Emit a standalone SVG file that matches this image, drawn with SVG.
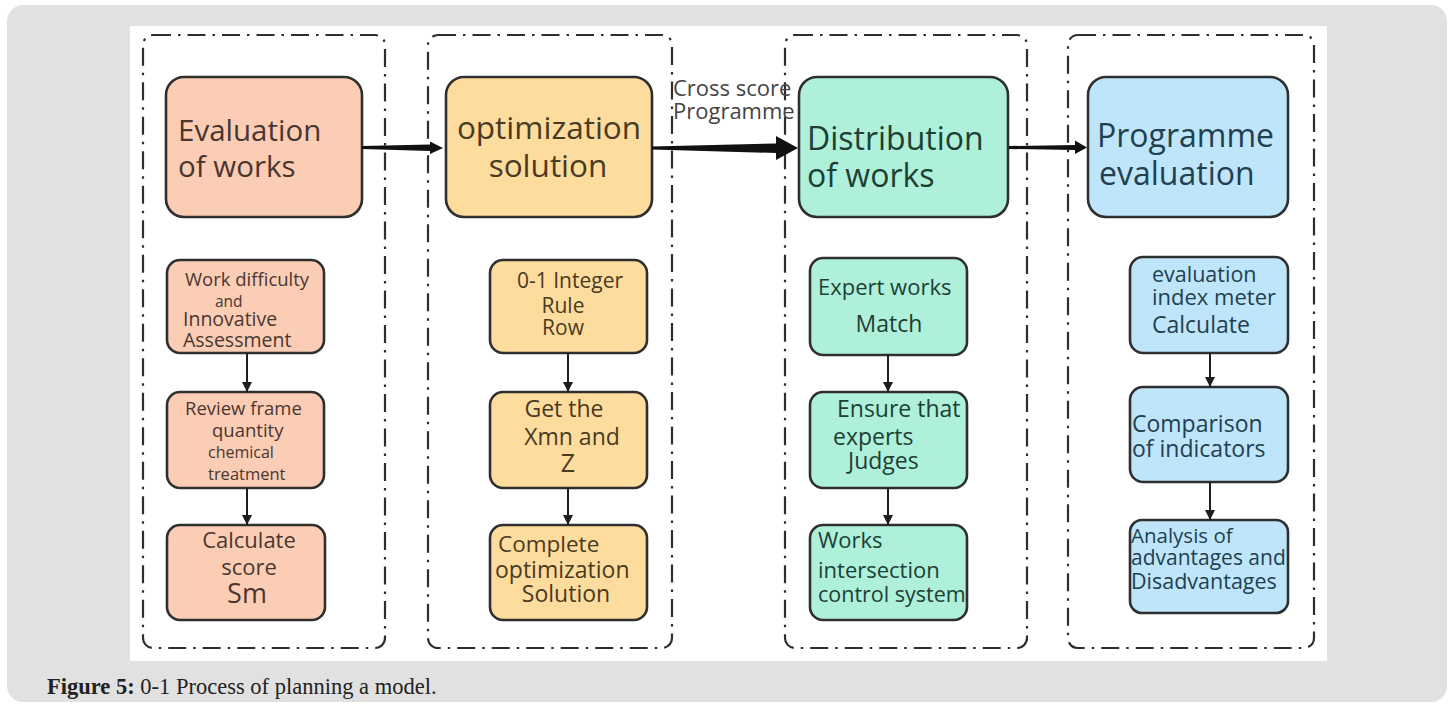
<svg xmlns="http://www.w3.org/2000/svg" width="1450" height="707" viewBox="0 0 1450 707">
<style>
.col{fill:none;stroke:#2e2e2e;stroke-width:2.2;stroke-dasharray:18 7 2.5 7;}
.big{stroke:#2f2f2f;stroke-width:2.6;}
.sm{stroke:#2f2f2f;stroke-width:2.6;}
.c1{fill:#fbcdb4;}
.c2{fill:#fddc9e;}
.c3{fill:#aef0da;}
.c4{fill:#bfe5fa;}
.t{font-family:"Open Sans","Noto Sans","Liberation Sans",sans-serif;}
.t1{fill:#4a3631;}
.t2{fill:#4a3a22;}
.t3{fill:#1d3f34;}
.t4{fill:#22404f;}
.m{text-anchor:middle;}
.v{stroke:#1e1e1e;stroke-width:2;fill:none;}
</style>
<defs>
<marker id="ah" viewBox="0 0 10 10" refX="10" refY="5" markerWidth="10" markerHeight="10" markerUnits="userSpaceOnUse" orient="auto">
<path d="M0,0 L10,5 L0,10 Z" fill="#1e1e1e"/>
</marker>
<clipPath id="clip4c"><rect x="1130" y="520" width="158" height="93" rx="12"/></clipPath>
</defs>
<rect x="0" y="0" width="1450" height="707" fill="#ffffff"/>
<rect x="7" y="5" width="1440" height="697" rx="16" fill="#e1e1e1"/>
<rect x="130" y="26" width="1197" height="635" fill="#ffffff"/>

<g id="columns">
<rect class="col" x="143" y="35" width="242" height="613" rx="10"/>
<rect class="col" x="428" y="35" width="244" height="613" rx="10"/>
<rect class="col" x="785" y="35" width="242" height="613" rx="10"/>
<rect class="col" x="1068" y="35" width="246" height="613" rx="10"/>
</g>

<g id="node-eval">
<rect class="big c1" x="166" y="77" width="196" height="140" rx="18"/>
<text class="t t1" x="178" y="141" font-size="29.5">Evaluation</text>
<text class="t t1" x="178" y="177" font-size="29.5">of works</text>
</g>
<g id="node-opt">
<rect class="big c2" x="446" y="77" width="206" height="140" rx="18"/>
<text class="t t2 m" x="549" y="139" font-size="31.5">optimization</text>
<text class="t t2 m" x="548" y="177" font-size="31.5">solution</text>
</g>
<g id="node-dist">
<rect class="big c3" x="799" y="77" width="209" height="140" rx="18"/>
<text class="t t3" x="807" y="150" font-size="32">Distribution</text>
<text class="t t3" x="807" y="187" font-size="32">of works</text>
</g>
<g id="node-prog">
<rect class="big c4" x="1088" y="77" width="200" height="140" rx="18"/>
<text class="t t4" x="1097" y="147" font-size="32">Programme</text>
<text class="t t4" x="1099" y="185" font-size="32">evaluation</text>
</g>

<g id="node-1a">
<rect class="sm c1" x="167" y="260" width="157" height="93" rx="13"/>
<text class="t t1" x="185" y="286" font-size="18.5">Work difficulty</text>
<text class="t t1" x="215" y="307" font-size="15.5">and</text>
<text class="t t1" x="183" y="326" font-size="19.5">Innovative</text>
<text class="t t1" x="183" y="347" font-size="19.5">Assessment</text>
</g>
<g id="node-1b">
<rect class="sm c1" x="167" y="392" width="157" height="96" rx="13"/>
<text class="t t1" x="185" y="415" font-size="18.5">Review frame</text>
<text class="t t1" x="212" y="437" font-size="18.5">quantity</text>
<text class="t t1" x="208" y="458" font-size="16">chemical</text>
<text class="t t1" x="208" y="480" font-size="16.5">treatment</text>
</g>
<g id="node-1c">
<rect class="sm c1" x="167" y="525" width="158" height="95" rx="13"/>
<text class="t t1 m" x="249" y="548" font-size="22">Calculate</text>
<text class="t t1 m" x="249" y="575" font-size="22">score</text>
<text class="t t1 m" x="247" y="603" font-size="27">Sm</text>
</g>

<g id="node-2a">
<rect class="sm c2" x="490" y="260" width="157" height="93" rx="13"/>
<text class="t t2 m" x="570" y="288" font-size="21">0-1 Integer</text>
<text class="t t2 m" x="563" y="313" font-size="21">Rule</text>
<text class="t t2 m" x="563" y="335" font-size="21">Row</text>
</g>
<g id="node-2b">
<rect class="sm c2" x="490" y="392" width="157" height="96" rx="13"/>
<text class="t t2 m" x="564" y="417" font-size="23">Get the</text>
<text class="t t2 m" x="572" y="445" font-size="23">Xmn and</text>
<text class="t t2 m" x="568" y="472" font-size="25">Z</text>
</g>
<g id="node-2c">
<rect class="sm c2" x="490" y="525" width="157" height="95" rx="13"/>
<text class="t t2" x="498" y="552" font-size="22.5">Complete</text>
<text class="t t2" x="495" y="578" font-size="23">optimization</text>
<text class="t t2 m" x="566" y="602" font-size="23">Solution</text>
</g>

<g id="node-3a">
<rect class="sm c3" x="810" y="258" width="157" height="97" rx="13"/>
<text class="t t3" x="818" y="295" font-size="22">Expert works</text>
<text class="t t3 m" x="889" y="332" font-size="23">Match</text>
</g>
<g id="node-3b">
<rect class="sm c3" x="810" y="392" width="157" height="96" rx="13"/>
<text class="t t3" x="837" y="417" font-size="23">Ensure that</text>
<text class="t t3" x="833" y="445" font-size="23">experts</text>
<text class="t t3" x="848" y="469" font-size="23">Judges</text>
</g>
<g id="node-3c">
<rect class="sm c3" x="810" y="525" width="157" height="95" rx="13"/>
<text class="t t3" x="818" y="548" font-size="22">Works</text>
<text class="t t3" x="818" y="578" font-size="22">intersection</text>
<text class="t t3" x="818" y="602" font-size="21.5">control system</text>
</g>

<g id="node-4a">
<rect class="sm c4" x="1130" y="257" width="158" height="96" rx="13"/>
<text class="t t4" x="1152" y="282" font-size="21.5">evaluation</text>
<text class="t t4" x="1152" y="305" font-size="22">index meter</text>
<text class="t t4" x="1152" y="333" font-size="23">Calculate</text>
</g>
<g id="node-4b">
<rect class="sm c4" x="1130" y="387" width="158" height="95" rx="13"/>
<text class="t t4" x="1132" y="432" font-size="23">Comparison</text>
<text class="t t4" x="1132" y="457" font-size="23">of indicators</text>
</g>
<g id="node-4c">
<rect class="sm c4" x="1130" y="520" width="158" height="93" rx="12"/>
<g clip-path="url(#clip4c)">
<text class="t t4" x="1131" y="543" font-size="20.5">Analysis of</text>
<text class="t t4" x="1131" y="565" font-size="21">advantages and</text>
<text class="t t4" x="1131" y="589" font-size="21.5">Disadvantages</text>
</g>
</g>

<g id="connectors">
<polygon points="362,146 430,144.5 430,141.5 443,148 430,154 430,151 362,149" fill="#111"/>
<polygon points="652,146.5 776,143.5 776,136 798,148 776,160 776,153 652,149.5" fill="#111"/>
<polygon points="1009,146 1075,145 1075,140.5 1087,147.5 1075,154 1075,150 1009,149" fill="#111"/>
<line class="v" x1="247" y1="353" x2="247" y2="392" marker-end="url(#ah)"/>
<line class="v" x1="247" y1="488" x2="247" y2="525" marker-end="url(#ah)"/>
<line class="v" x1="568" y1="353" x2="568" y2="392" marker-end="url(#ah)"/>
<line class="v" x1="568" y1="488" x2="568" y2="525" marker-end="url(#ah)"/>
<line class="v" x1="888" y1="355" x2="888" y2="392" marker-end="url(#ah)"/>
<line class="v" x1="888" y1="488" x2="888" y2="525" marker-end="url(#ah)"/>
<line class="v" x1="1210" y1="353" x2="1210" y2="387" marker-end="url(#ah)"/>
<line class="v" x1="1210" y1="482" x2="1210" y2="520" marker-end="url(#ah)"/>
<text class="t" x="673" y="96" font-size="22" fill="#444">Cross score</text>
<text class="t" x="673" y="119" font-size="22" fill="#444">Programme</text>
</g>

<text x="47" y="694" font-family="'Liberation Serif','Times New Roman',serif" font-size="22.5" fill="#222"><tspan font-weight="bold">Figure 5:</tspan> 0-1 Process of planning a model.</text>
</svg>
